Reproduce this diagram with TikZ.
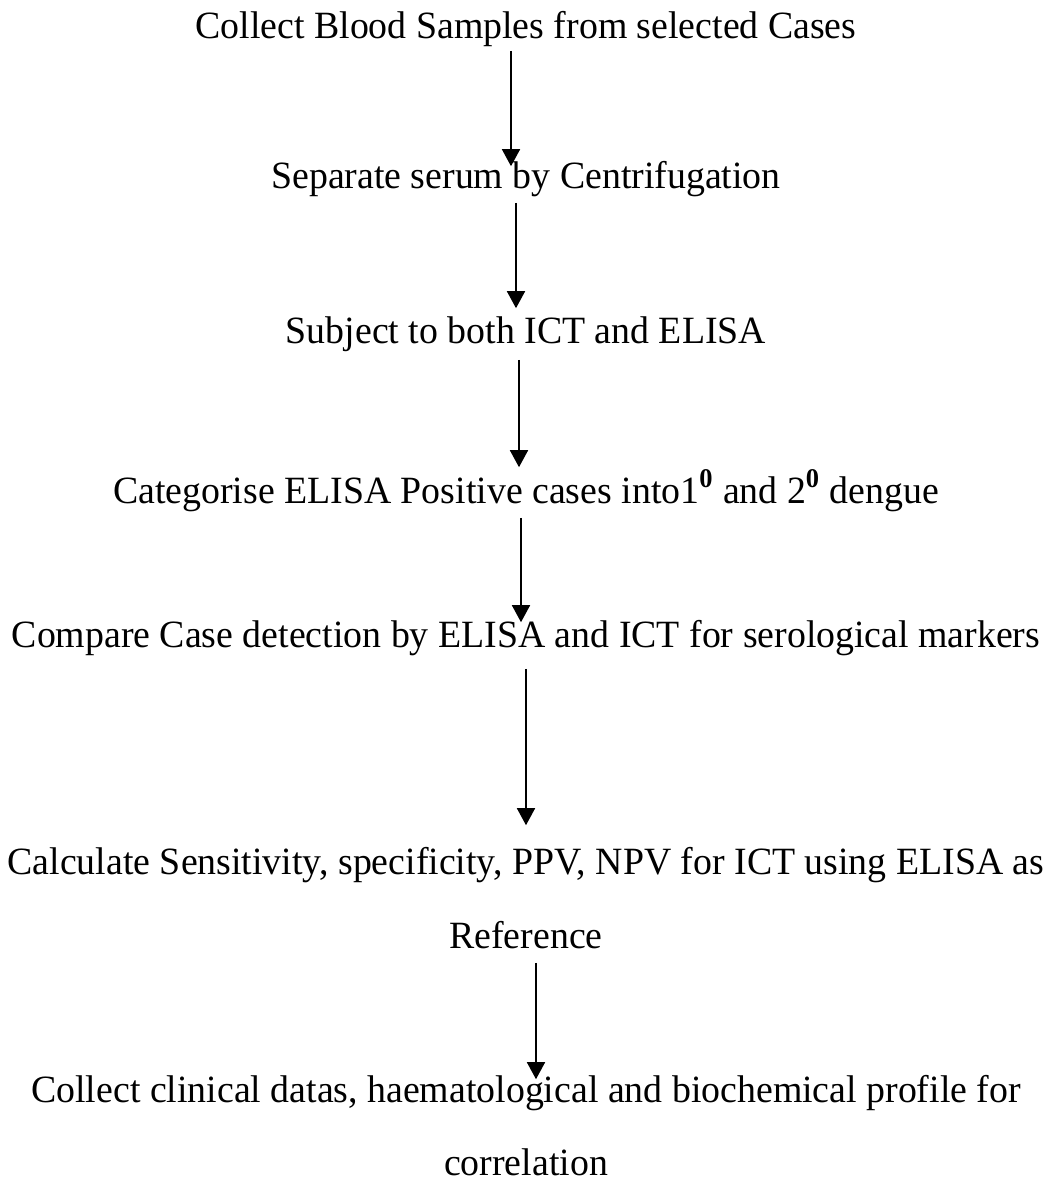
\documentclass[tikz,border=0pt]{standalone}
\usepackage{fontspec}
\setmainfont[FakeStretch=0.98]{Liberation Serif}
\usetikzlibrary{positioning,arrows.meta}
\tikzset{node distance=75pt, auto,
  flow/.style={-{Triangle[width=9pt,length=8.5pt]}},
  every node/.style={inner sep=0pt, text height=13pt, text depth=4pt,
    font=\fontsize{19.3}{22}\selectfont}}

\begin{document}
\begin{tikzpicture}[line width=0.8pt]
      \useasboundingbox (-263pt,15pt) rectangle (262pt,-576pt);

      \node  (BS)  {Collect Blood Samples from selected Cases};
      \node  (SS) [below of=BS] {Separate serum by Centrifugation};
      \node  (IE) [below of=SS, node distance=77pt] {Subject to both ICT and ELISA};
      \node  (CAT) [below of=IE, node distance=80pt] {Categorise ELISA Positive cases into1\textsuperscript{\textbf{0}} and 2\textsuperscript{\textbf{0}} dengue};
      \node  (CMP) [below of=CAT, node distance=72pt] {Compare Case detection by ELISA and ICT for serological markers};
      \node  (CAL) [below of=CMP, node distance=113.5pt] {Calculate Sensitivity, specificity, PPV, NPV for ICT using ELISA as};
      \node  (REF) [below of=CAL, node distance=37pt] {Reference};
      \node  (CD) [below of=REF, node distance=77pt] {Collect clinical datas, haematological and biochemical profile for};
      \node  (COR) [below of=CD, node distance=36.5pt] {correlation};

      \draw[flow] ([xshift=-7.5pt,yshift=-1.5pt]BS.south) to ([xshift=-7.5pt,yshift=-2pt]SS.north);
      \draw[flow] ([xshift=-5pt,yshift=-2.5pt]SS.south) to ([xshift=-5pt,yshift=4pt]IE.north);
      \draw[flow] ([xshift=-3.5pt,yshift=-4pt]IE.south) to ([xshift=-3.5pt,yshift=4.5pt]CAT.north);
      \draw[flow] ([xshift=-2.5pt,yshift=-3pt]CAT.south) to ([xshift=-2.5pt,yshift=-1pt]CMP.north);
      \draw[flow] ([yshift=-6.5pt]CMP.south) to ([yshift=11pt]CAL.north);
      \draw[flow] ([xshift=5pt,yshift=-3pt]REF.south) to ([xshift=5pt,yshift=-2pt]CD.north);
    \end{tikzpicture}
\end{document}
